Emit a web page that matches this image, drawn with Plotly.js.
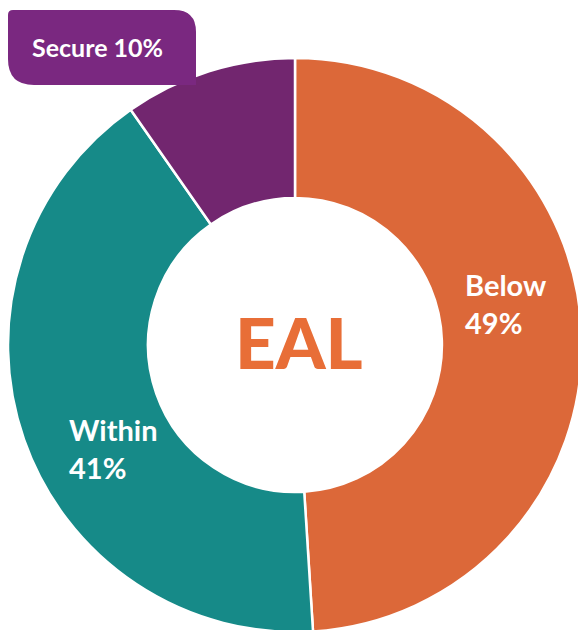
<!DOCTYPE html>
<html>
<head>
<meta charset="utf-8">
<script src="https://cdn.plot.ly/plotly-3.0.1.min.js"></script>
<style>
html,body{margin:0;padding:0;overflow:hidden;background:#fff;width:578px;height:630px;}
#chart{position:absolute;left:0;top:0;}
</style>
</head>
<body>
<div id="chart"></div>
<script>
// Data
const categories = ['Below', 'Within', 'Secure'];
const values = [49, 41.3, 9.7];
const colors = ['#DC6839', '#168A88', '#72266F'];
const centerLabel = 'EAL';

// Layout geometry (pixels)
const W = 582, H = 632, ML = 8, MT = 58, PW = 574, PH = 574;
const px = x => (x - ML) / PW;
const py = y => 1 - (y - MT) / PH;
const pct = v => Math.round(v) + '%';

const trace = {
  type: 'pie',
  labels: categories,
  values: values,
  marker: {colors: colors, line: {color: '#ffffff', width: 2.5}},
  hole: 0.512,
  sort: false,
  direction: 'clockwise',
  rotation: 0,
  textinfo: 'none',
  hoverinfo: 'none',
  showlegend: false
};

const labelFont = {family: 'Lato, "Open Sans", sans-serif', size: 29, color: '#ffffff', weight: 'bold'};

const annotations = [
  {text: categories[0] + '<br>' + pct(values[0]), x: px(463), y: py(303), xref: 'paper', yref: 'paper',
   xanchor: 'left', yanchor: 'middle', align: 'left', showarrow: false, font: labelFont},
  {text: categories[1] + '<br>' + pct(values[1]), x: px(67), y: py(448), xref: 'paper', yref: 'paper',
   xanchor: 'left', yanchor: 'middle', align: 'left', showarrow: false, font: labelFont},
  {text: categories[2] + ' ' + pct(values[2]), x: px(30), y: py(47), xref: 'paper', yref: 'paper',
   xanchor: 'left', yanchor: 'middle', align: 'left', showarrow: false,
   font: {family: 'Lato, "Open Sans", sans-serif', size: 25, color: '#ffffff', weight: 'bold'}},
  {text: centerLabel, x: px(299), y: py(342), xref: 'paper', yref: 'paper',
   xanchor: 'center', yanchor: 'middle', showarrow: false,
   font: {family: 'Lato, "Open Sans", sans-serif', size: 71, color: '#E86E37', weight: 900}}
];

// Rounded label box (top-left small radius, top-right and bottom-left large radius)
const bx0 = 8, by0 = 10, bx1 = 196, by1 = 85;
function P(x, y) { return px(x).toFixed(5) + ',' + py(y).toFixed(5); }
const rTL = 5, rTR = 22, rBL = 26;
const boxPath = 'M' + P(bx0, by0 + rTL) +
  ' Q' + P(bx0, by0) + ' ' + P(bx0 + rTL, by0) +
  ' L' + P(bx1 - rTR, by0) +
  ' Q' + P(bx1, by0) + ' ' + P(bx1, by0 + rTR) +
  ' L' + P(bx1, by1) +
  ' L' + P(bx0 + rBL, by1) +
  ' Q' + P(bx0, by1) + ' ' + P(bx0, by1 - rBL) + ' Z';

const layout = {
  width: W, height: H,
  margin: {l: ML, r: W - ML - PW, t: MT, b: H - MT - PH, pad: 0},
  paper_bgcolor: '#ffffff',
  plot_bgcolor: '#ffffff',
  showlegend: false,
  shapes: [{type: 'path', xref: 'paper', yref: 'paper', path: boxPath,
            fillcolor: '#7A2880', line: {width: 0}, layer: 'above'}],
  annotations: annotations
};

Plotly.newPlot('chart', [trace], layout, {staticPlot: true, displayModeBar: false});
</script>
</body>
</html>
